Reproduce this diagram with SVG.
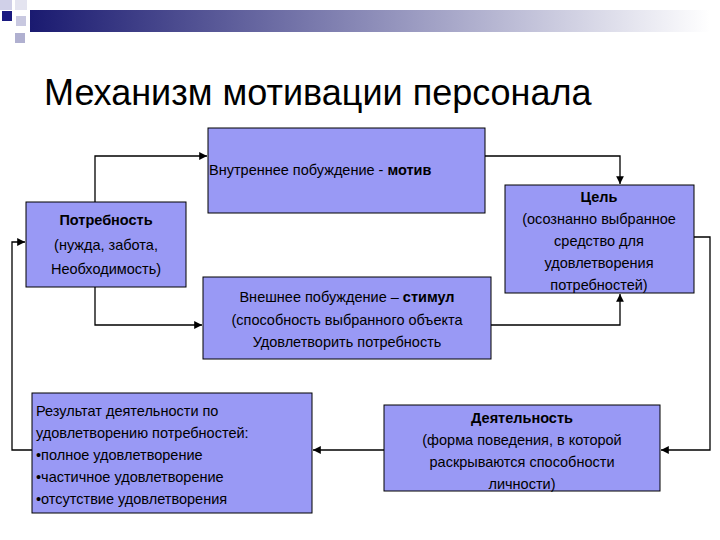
<svg xmlns="http://www.w3.org/2000/svg" width="720" height="540" viewBox="0 0 720 540">
<defs>
<linearGradient id="g" x1="0" x2="1" y1="0" y2="0"><stop offset="0" stop-color="#1a1a70"/><stop offset="0.5" stop-color="#8c8cb8"/><stop offset="1" stop-color="#ffffff"/></linearGradient>
<marker id="a" viewBox="0 0 10 10" refX="10" refY="5" markerWidth="6" markerHeight="6" orient="auto"><path d="M0,0 L10,5 L0,10 z" fill="#000"/></marker>
<style>
.b{fill:#9999f5;stroke:#000;stroke-width:1}
.t{font-family:"Liberation Sans",Arial,sans-serif;font-size:14.5px;fill:#000}
.c{fill:none;stroke:#000;stroke-width:1.3;marker-end:url(#a)}
</style>
</defs>
<rect width="720" height="540" fill="#fff"/>
<g id="header">
<rect x="0" y="0" width="12" height="10" fill="#d0d0e8"/>
<rect x="15" y="0" width="12" height="10" fill="#e4e4f0"/>
<rect x="2" y="11" width="10" height="10" fill="#1a1a80"/>
<rect x="16" y="16" width="10" height="10" fill="#c8c8e0"/>
<rect x="15" y="33" width="10" height="10" fill="#b0b0d0"/>
<rect x="30" y="10" width="680" height="22" fill="url(#g)"/>
<text x="44" y="105" font-family="'Liberation Sans',Arial,sans-serif" font-size="36">Механизм мотивации персонала</text>
</g>
<g id="connectors">
<path class="c" d="M95,202 V156 H207"/>
<path class="c" d="M485,156 H620 V184"/>
<path class="c" d="M95,287 V325 H202"/>
<path class="c" d="M491,325 H620 V294"/>
<path class="c" d="M694,237 H710 V450 H661"/>
<path class="c" d="M384,450 H313"/>
<path class="c" d="M32,450 H12 V242 H25"/>
</g>
<g id="motiv"><rect class="b" x="208" y="128" width="277" height="85"/>
<text class="t" x="209" y="175">Внутреннее побуждение - <tspan font-weight="bold">мотив</tspan></text></g>
<g id="need"><rect class="b" x="26" y="202" width="160" height="85"/>
<text class="t" text-anchor="middle"><tspan x="106" y="225" font-weight="bold">Потребность</tspan><tspan x="106" y="250">(нужда, забота,</tspan><tspan x="106" y="274">Необходимость)</tspan></text></g>
<g id="stimul"><rect class="b" x="203" y="277" width="288" height="82"/>
<text class="t" text-anchor="middle"><tspan x="347" y="302">Внешнее побуждение – <tspan font-weight="bold">стимул</tspan></tspan><tspan x="347" y="325">(способность выбранного объекта</tspan><tspan x="347" y="347">Удовлетворить потребность</tspan></text></g>
<g id="goal"><rect class="b" x="505" y="185" width="189" height="108"/>
<text class="t" text-anchor="middle"><tspan x="599" y="202" font-weight="bold">Цель</tspan><tspan x="599" y="224">(осознанно выбранное</tspan><tspan x="599" y="246">средство для</tspan><tspan x="599" y="268">удовлетворения</tspan><tspan x="599" y="290">потребностей)</tspan></text></g>
<g id="result"><rect class="b" x="32" y="393" width="280" height="120"/>
<text class="t"><tspan x="36" y="416">Результат деятельности по</tspan><tspan x="36" y="438">удовлетворению потребностей:</tspan><tspan x="36" y="460">•полное удовлетворение</tspan><tspan x="36" y="482">•частичное удовлетворение</tspan><tspan x="36" y="504">•отсутствие удовлетворения</tspan></text></g>
<g id="activity"><rect class="b" x="384" y="405" width="276" height="86"/>
<text class="t" text-anchor="middle"><tspan x="522" y="423" font-weight="bold">Деятельность</tspan><tspan x="522" y="445">(форма поведения, в которой</tspan><tspan x="522" y="467">раскрываются способности</tspan><tspan x="522" y="489">личности)</tspan></text></g>
</svg>
